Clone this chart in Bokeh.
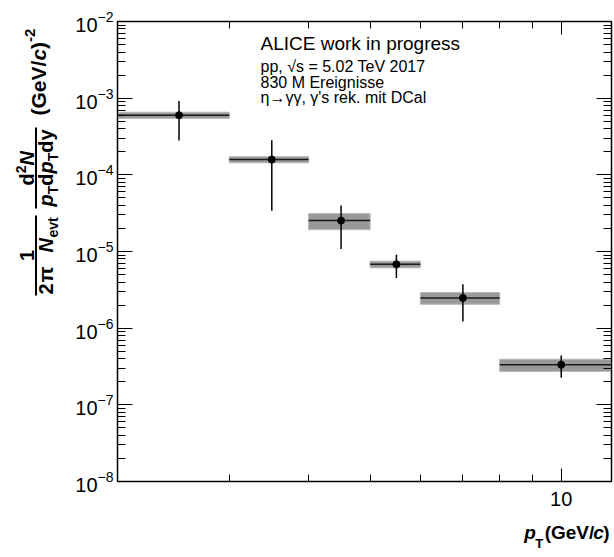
import math
from bokeh.plotting import figure
from bokeh.layouts import row, column
from bokeh.models import (LogAxis, FixedTicker, Label, ColumnDataSource, Range1d,
                          BasicTickFormatter, LogTickFormatter)
from bokeh.core.properties import value
from bokeh.embed import file_html
from bokeh.resources import INLINE

# ---------------- data ----------------
bin_lo = [2, 3, 4, 5, 6, 8]
bin_hi = [3, 4, 5, 6, 8, 12]
pt_center = [2.5, 3.5, 4.5, 5.5, 7.0, 10.0]
yield_val = [6.0e-4, 1.58e-4, 2.53e-5, 6.8e-6, 2.48e-6, 3.33e-7]
stat_err = [3.2e-4, 1.24e-4, 1.45e-5, 2.3e-6, 1.26e-6, 1.07e-7]
sys_err = [5.5e-5, 1.45e-5, 6.0e-6, 6.8e-7, 4.3e-7, 6.0e-8]

x_major_ticks = [10]
x_minor_ticks = [3, 4, 5, 6, 7, 8, 9]
y_decades = [-8, -7, -6, -5, -4, -3, -2]
info_lines = ["ALICE work in progress",
              "pp, \u221as = 5.02 TeV 2017",
              "830 M Ereignisse",
              "\u03b7\u2192\u03b3\u03b3, \u03b3's rek. mit DCal"]

FONT = "Liberation Sans"
W, H = 614, 557
TW = 72          # width of y-title panel
MH = 515         # height of main plot
BH = H - MH      # height of x-title panel
MID = 0.35       # anchor sits ~0.35 em above the text baseline


def blank(width, height):
    f = figure(width=width, height=height, x_range=Range1d(0, width), y_range=Range1d(0, height),
               output_backend="svg", toolbar_location=None,
               x_axis_location=None, y_axis_location=None,
               min_border_left=0, min_border_right=0, min_border_top=0, min_border_bottom=0)
    f.xgrid.visible = False
    f.ygrid.visible = False
    f.outline_line_color = None
    f.border_fill_color = "white"
    f.background_fill_color = "white"
    return f


# ---------------- main plot ----------------
p = figure(width=W - TW, height=MH, x_axis_type="log", y_axis_type="log",
           x_range=Range1d(2, 12), y_range=Range1d(1e-8, 1e-2),
           output_backend="svg", toolbar_location=None,
           min_border_left=45, min_border_right=3, min_border_top=21, min_border_bottom=34)
p.xgrid.visible = False
p.ygrid.visible = False
p.outline_line_color = "black"
p.outline_line_width = 1.5
p.background_fill_color = "white"
p.border_fill_color = "white"

y_major = [10.0 ** d for d in y_decades]
y_minor = [m * 10.0 ** d for d in y_decades[:-1] for m in range(2, 10)]


def style_axis(ax, ticker, formatter, tick_in, minor_in, labels, standoff):
    ax.ticker = ticker
    ax.formatter = formatter
    ax.major_tick_in = tick_in
    ax.major_tick_out = 0
    ax.minor_tick_in = minor_in
    ax.minor_tick_out = 0
    ax.axis_line_color = "black"
    ax.major_tick_line_color = "black"
    ax.minor_tick_line_color = "black"
    ax.major_label_text_font = FONT
    ax.major_label_text_font_size = "20px" if labels else "1px"
    ax.major_label_text_color = "black" if labels else None
    ax.major_label_standoff = standoff if labels else 0


xt = lambda: FixedTicker(ticks=x_major_ticks, minor_ticks=x_minor_ticks)
yt = lambda: FixedTicker(ticks=y_major, minor_ticks=y_minor)
style_axis(p.xaxis[0], xt(), BasicTickFormatter(), 13, 7, True, 10)
style_axis(p.yaxis[0], yt(), LogTickFormatter(), 15, 8, True, 4)
top_ax = LogAxis()
style_axis(top_ax, xt(), BasicTickFormatter(), 13, 7, False, 0)
p.add_layout(top_ax, "above")
right_ax = LogAxis()
style_axis(right_ax, yt(), LogTickFormatter(), 15, 8, False, 0)
p.add_layout(right_ax, "right")

src = ColumnDataSource(dict(
    lo=bin_lo, hi=bin_hi, x=pt_center, y=yield_val,
    sys_lo=[v - s for v, s in zip(yield_val, sys_err)],
    sys_hi=[v + s for v, s in zip(yield_val, sys_err)],
    st_lo=[v - s for v, s in zip(yield_val, stat_err)],
    st_hi=[v + s for v, s in zip(yield_val, stat_err)],
))
p.quad(left="lo", right="hi", bottom="sys_lo", top="sys_hi", source=src,
       fill_color="#999999", line_color="#b8b8b8", line_width=1)
p.segment(x0="lo", x1="hi", y0="y", y1="y", source=src, line_color="#1a1a1a", line_width=1.5)
p.segment(x0="x", x1="x", y0="st_lo", y1="st_hi", source=src, line_color="black", line_width=1.5)
p.scatter(x="x", y="y", source=src, size=7, color="black")

# info text: (left offset from frame, baseline below frame top, font size)
info_pos = [(143, 29, 19), (143, 51, 16), (143, 67, 16), (143, 82, 16)]
for txt, (dx, dy, fs) in zip(info_lines, info_pos):
    p.add_layout(Label(x=2, y=1e-2, x_offset=dx, y_offset=-(dy - MID * fs), text=txt,
                       text_font=FONT, text_font_size=f"{fs}px", text_color="black",
                       text_baseline="alphabetic", text_align="left"))

# ---------------- x-title panel (below main plot) ----------------
b = blank(W - TW, BH)
xb = 18.0      # baseline height in panel
x_parts = [  # (text, right edge x, style, size, baseline)
    (")", 540.0, "bold", 19, xb),
    ("c", 533.7, "bold italic", 19, xb),
    ("(GeV/", 523.1, "bold", 19, xb),
    ("T", 467.0, "bold", 13, xb - 9),
    ("p", 459.0, "bold italic", 19, xb),
]
for txt, rx, st, fs, by in x_parts:
    b.text(x=[rx], y=[by + MID * fs], text=[txt], text_font=value(FONT), text_font_style=st,
           text_font_size=f"{fs}px", text_color="black", text_align="right",
           text_baseline="alphabetic")

# ---------------- y-title panel ----------------
t = blank(TW, H)
ROT = math.pi / 2
# pieces: (text, baseline x, screen y start, style, size, align)
pieces = [
    ("1", 33, 255, "bold", 20, "center"),
    ("2", 52, 294, "bold", 20, "left"),
    ("\u03c0", 52, 282, "bold", 21, "left"),
    ("N", 52, 252, "bold italic", 20, "left"),
    ("evt", 57, 237, "bold", 14, "left"),
    ("d", 33, 185, "bold", 20, "left"),
    ("2", 25, 172.8, "bold", 14, "left"),
    ("N", 33, 165, "bold italic", 20, "left"),
    ("p", 52, 206, "bold italic", 20, "left"),
    ("T", 57, 193.8, "bold", 14, "left"),
    ("d", 52, 185.2, "bold", 20, "left"),
    ("p", 52, 173, "bold italic", 20, "left"),
    ("T", 57, 160.8, "bold", 14, "left"),
    ("d", 52, 152.2, "bold", 20, "left"),
    ("y", 52, 140, "bold", 20, "left"),
    ("(GeV/", 45, 115, "bold", 21, "left"),
    ("c", 45, 60.1, "bold italic", 21, "left"),
    (")", 45, 48.4, "bold", 21, "left"),
    ("-2", 35, 41.4, "bold", 15, "left"),
]
for txt, bx, sy, st, fs, al in pieces:
    t.text(x=[bx - MID * fs], y=[H - sy], text=[txt], angle=ROT,
           text_font=value(FONT), text_font_style=st, text_font_size=f"{fs}px",
           text_color="black", text_align=al, text_baseline="alphabetic")

bars_x = [35.5, 35.5]
bars_y0 = [H - 215, H - 127]
bars_y1 = [H - 295, H - 208]
t.segment(x0=bars_x, x1=bars_x, y0=bars_y0, y1=bars_y1, line_color="black", line_width=2)

layout = row(t, column(p, b, spacing=0), spacing=0)
open("out.html", "w").write(file_html(layout, INLINE))
